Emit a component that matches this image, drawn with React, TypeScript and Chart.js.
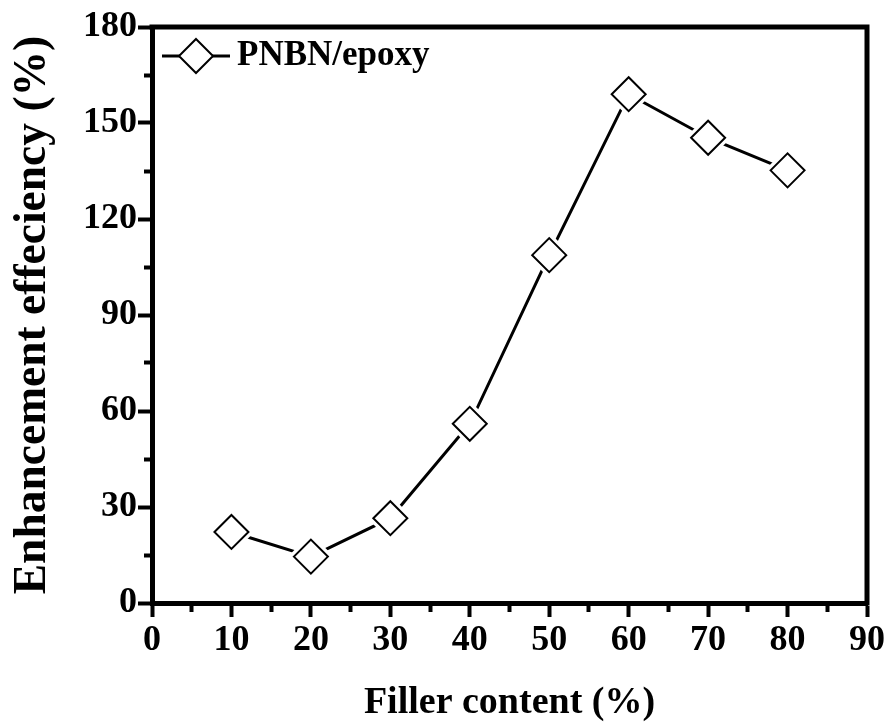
import React, { useEffect, useRef } from "react";
import { Chart, registerables } from "chart.js";

Chart.register(...registerables);

const fillerContent = [10, 20, 30, 40, 50, 60, 70, 80];
const enhancement = [22.2, 14.5, 26.5, 56, 108.7, 159, 145.4, 135.2];
const seriesName = "PNBN/epoxy";
const xTitle = "Filler content (%)";
const yTitle = "Enhancement effeciency (%)";

const FONT = "'Liberation Serif', 'Times New Roman', serif";

// Legend drawn inside the plot area (line – diamond – line, then the label)
const insideLegendPlugin = {
  id: "insideLegend",
  afterDraw(chart: any) {
    const { ctx, chartArea } = chart;
    const cx = chartArea.left + 44;
    const cy = chartArea.top + 29;
    const r = 17;
    ctx.save();
    ctx.strokeStyle = "#000";
    ctx.lineWidth = 3;
    ctx.beginPath();
    ctx.moveTo(cx - 34, cy);
    ctx.lineTo(cx + 34, cy);
    ctx.stroke();
    ctx.fillStyle = "#fff";
    ctx.lineWidth = 2;
    ctx.beginPath();
    ctx.moveTo(cx, cy - r);
    ctx.lineTo(cx + r, cy);
    ctx.lineTo(cx, cy + r);
    ctx.lineTo(cx - r, cy);
    ctx.closePath();
    ctx.fill();
    ctx.stroke();
    ctx.fillStyle = "#000";
    ctx.font = `bold 35px ${FONT}`;
    ctx.textAlign = "left";
    ctx.textBaseline = "alphabetic";
    ctx.fillText(seriesName, cx + 41, chartArea.top + 38);
    ctx.restore();
  },
};

const framePlugin = {
  id: "frame",
  afterDraw(chart: any) {
    const { ctx, chartArea } = chart;
    ctx.save();
    ctx.strokeStyle = "#000";
    ctx.lineWidth = 5;
    ctx.lineCap = "square";
    ctx.beginPath();
    ctx.moveTo(chartArea.left, chartArea.top);
    ctx.lineTo(chartArea.right, chartArea.top);
    ctx.lineTo(chartArea.right, chartArea.bottom);
    ctx.stroke();
    ctx.restore();
  },
};

export default function App() {
  const ref = useRef<HTMLCanvasElement>(null);
  useEffect(() => {
    document.body.style.margin = "0";
    const pts = fillerContent.map((x, i) => ({ x, y: enhancement[i] }));
    const chart = new Chart(ref.current!, {
      type: "line",
      data: {
        datasets: [
          {
            label: "line",
            data: pts,
            borderColor: "#000",
            borderWidth: 3,
            pointRadius: 0,
            fill: false,
            order: 3,
          },
          {
            label: "halo",
            data: pts,
            showLine: false,
            pointStyle: "rectRot",
            pointRadius: 23,
            pointBackgroundColor: "#fff",
            pointBorderColor: "#fff",
            pointBorderWidth: 0,
            order: 2,
          },
          {
            label: seriesName,
            data: pts,
            showLine: false,
            pointStyle: "rectRot",
            pointRadius: 17,
            pointBackgroundColor: "#fff",
            pointBorderColor: "#000",
            pointBorderWidth: 2,
            order: 1,
          },
        ],
      },
      options: {
        animation: false,
        responsive: false,
        events: [],
        layout: { padding: { left: 0, right: 21, top: 27, bottom: 0 } },
        plugins: {
          tooltip: { enabled: false },
          legend: { display: false },
        },
        scales: {
          x: {
            type: "linear",
            min: 0,
            max: 90,
            afterFit: (s: any) => {
              s.height = 121;
            },
            ticks: {
              stepSize: 5,
              autoSkip: false,
              maxRotation: 0,
              padding: 2,
              color: "#000",
              font: { family: FONT, size: 36, weight: "bold" },
              callback: (v: any) => (Number(v) % 10 === 0 ? String(v) : ""),
            },
            grid: {
              drawOnChartArea: false,
              drawTicks: true,
              tickLength: 14,
              tickWidth: 4,
              tickColor: "#000",
              tickBorderDash: (c: any) =>
                c.tick && Number(c.tick.value) % 10 !== 0 ? [6, 100] : [],
            },
            border: { display: true, color: "#000", width: 5 },
            title: {
              display: true,
              text: xTitle,
              color: "#000",
              font: { family: FONT, size: 38, weight: "bold", lineHeight: 1 },
              padding: { top: 0, bottom: 2 },
            },
          },
          y: {
            type: "linear",
            min: 0,
            max: 180,
            afterFit: (s: any) => {
              s.width = 152;
            },
            ticks: {
              stepSize: 15,
              autoSkip: false,
              padding: 1,
              color: "#000",
              font: { family: FONT, size: 36, weight: "bold" },
              callback: (v: any) => (Number(v) % 30 === 0 ? String(v) : ""),
            },
            grid: {
              drawOnChartArea: false,
              drawTicks: true,
              tickLength: 14,
              tickWidth: 4,
              tickColor: "#000",
              tickBorderDash: (c: any) =>
                c.tick && Number(c.tick.value) % 30 !== 0 ? [0, 6, 20, 100] : [],
            },
            border: { display: true, color: "#000", width: 5 },
            title: {
              display: true,
              text: yTitle,
              color: "#000",
              font: { family: FONT, size: 45.5, weight: "bold", lineHeight: 1 },
              padding: { top: 10, bottom: 0 },
            },
          },
        },
      },
      plugins: [framePlugin, insideLegendPlugin],
    } as any);
    return () => chart.destroy();
  }, []);
  return <canvas ref={ref} width={890} height={724} style={{ display: "block" }} />;
}
